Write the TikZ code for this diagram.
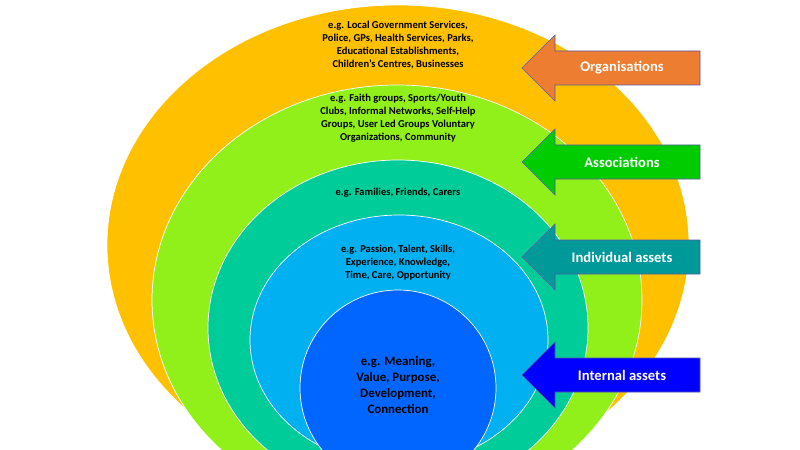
\documentclass[tikz,border=0pt]{standalone}
\usepackage{fontspec}
\setmainfont{Carlito}
\begin{document}
\begin{tikzpicture}[x=0.03cm,y=-0.03cm,
    ring/.style={draw=white,line width=0.6pt},
    txt/.style={align=center,font=\bfseries\fontsize{9}{11.2}\selectfont,inner sep=0pt},
    tag/.style={draw=gray!70!blue,line width=0.5pt}]
    \useasboundingbox (0,0) rectangle (800,450);
    \clip (0,0) rectangle (800,450);

    % rings
    \fill[ring,fill={rgb,255:red,255;green,192;blue,0}] (398,245) ellipse (291 and 240);
    \filldraw[ring,fill={rgb,255:red,146;green,240;blue,26}] (397,300) ellipse (245 and 215);
    \filldraw[ring,fill={rgb,255:red,0;green,204;blue,153}] (398,328) ellipse (190 and 168);
    \filldraw[ring,fill={rgb,255:red,0;green,176;blue,240}] (399,340) ellipse (149 and 125);
    \filldraw[ring,fill={rgb,255:red,0;green,102;blue,255}] (398,388) circle (98);

    % texts
    \node[txt] (org) at (398,45) {e.g. Local Government Services,\\Police, GPs, Health Services, Parks,\\Educational Establishments,\\Children's Centres, Businesses};
    \node[txt] (asc) at (398,118) {e.g. Faith groups, Sports/Youth\\Clubs, Informal Networks, Self-Help\\Groups, User Led Groups Voluntary\\Organizations, Community};
    \node[txt] (fam) at (398,193) {e.g. Families, Friends, Carers};
    \node[txt] (ind) at (398,263) {e.g. Passion, Talent, Skills,\\Experience, Knowledge,\\Time, Care, Opportunity};
    \node[txt,font=\bfseries\fontsize{11}{13.5}\selectfont] (int) at (398,385) {e.g. Meaning,\\Value, Purpose,\\Development,\\Connection};

    % arrows
    \foreach \y/\col/\lbl in {68/{rgb,255:red,237;green,125;blue,49}/Organisations,
        162/{rgb,255:red,0;green,204;blue,0}/Associations,
        257/{rgb,255:red,0;green,153;blue,153}/Individual assets,
        375/{rgb,255:red,0;green,0;blue,255}/Internal assets}{
      \filldraw[tag,fill=\col] (522,\y) -- (555,\y-33) -- (555,\y-17) -- (700,\y-17)
        -- (700,\y+17) -- (555,\y+17) -- (555,\y+33) -- cycle;
      \node[text=white,font=\bfseries\fontsize{12.5}{14}\selectfont] at (622,\y) {\lbl};
    }
\end{tikzpicture}
\end{document}
